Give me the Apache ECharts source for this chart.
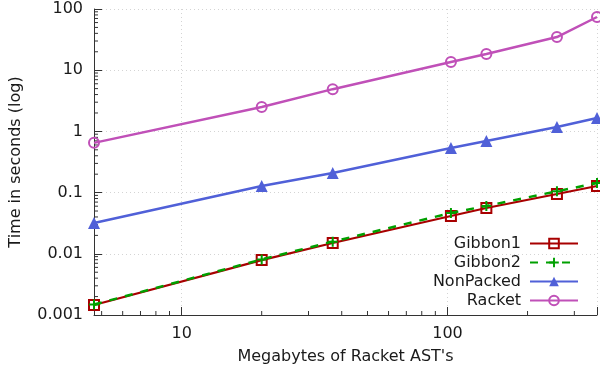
<!DOCTYPE html>
<html>
<head>
<meta charset="utf-8">
<script src="https://cdn.jsdelivr.net/npm/echarts@6/dist/echarts.min.js"></script>
<style>html,body{margin:0;padding:0;background:#fff}#c{width:600px;height:371px}</style>
</head>
<body>
<div id="c"></div>
<script>
var sizes = [4.68, 20, 37, 103, 140, 258, 365];
var gibbon1 = [0.00146, 0.0079, 0.015, 0.0415, 0.056, 0.095, 0.128];
var gibbon2 = [0.00148, 0.0081, 0.0158, 0.0465, 0.0606, 0.105, 0.143];
var nonPacked = [0.0318, 0.128, 0.209, 0.535, 0.697, 1.18, 1.65];
var racket = [0.65, 2.5, 4.9, 13.6, 18.4, 34.8, 74];
var yTicks = [0.001, 0.01, 0.1, 1, 10, 100];
var xTicks = [10, 100];

var FONT = 'DejaVu Sans';
var TXT = '#1a1a1a';
var AX = '#333';

function pairs(ys) { return sizes.map(function (x, i) { return [x, ys[i]]; }); }

// minor tick positions (axis decoration)
var xMinor = [], yMinor = [];
[1, 10, 100].forEach(function (d) { for (var k = 2; k <= 9; k++) xMinor.push(k * d); });
[0.001, 0.01, 0.1, 1, 10].forEach(function (d) { for (var k = 2; k <= 9; k++) yMinor.push(+(k * d).toPrecision(3)); });

var chart = echarts.init(document.getElementById('c'), null, { renderer: 'canvas' });
var xMin = sizes[0], xMax = sizes[sizes.length - 1];

var plus = 'path://M4,0h2v4h4v2h-4v4h-2v-4h-4v-2h4z';

chart.setOption({
  animation: false,
  backgroundColor: '#fff',
  textStyle: { fontFamily: FONT },
  grid: { left: 93, right: 2, top: 9, bottom: 56 },
  legend: {
    orient: 'vertical', align: 'right', right: 16, top: 229,
    itemWidth: 48, itemHeight: 12, itemGap: 0,
    textStyle: { fontFamily: FONT, fontSize: 16, color: TXT, lineHeight: 19, padding: [0, 4, 0, 0] },
    data: ['Gibbon1', 'Gibbon2', 'NonPacked', 'Racket']
  },
  xAxis: {
    type: 'log', min: xMin, max: xMax,
    name: "Megabytes of Racket AST's", nameLocation: 'middle', nameGap: 34,
    nameTextStyle: { fontFamily: FONT, fontSize: 16, color: TXT },
    axisLine: { lineStyle: { color: AX, width: 1 } },
    axisTick: { inside: true, length: 8, lineStyle: { color: AX } },
    axisLabel: { fontFamily: FONT, fontSize: 16, color: TXT, margin: 11,
      formatter: function (v) { return xTicks.indexOf(Math.round(v)) >= 0 ? String(Math.round(v)) : ''; } },
    splitLine: { show: true, lineStyle: { color: '#d4d4d4', type: [1, 3], width: 1 } }
  },
  yAxis: {
    type: 'log', min: yTicks[0], max: yTicks[yTicks.length - 1],
    name: 'Time in seconds (log)', nameLocation: 'middle', nameGap: 70,
    nameTextStyle: { fontFamily: FONT, fontSize: 16, color: TXT },
    axisLine: { show: true, lineStyle: { color: AX, width: 1 } },
    axisTick: { show: true, inside: true, length: 8, lineStyle: { color: AX } },
    axisLabel: { fontFamily: FONT, fontSize: 16, color: TXT, margin: 11,
      formatter: function (v) { return String(+v.toPrecision(3)); } },
    splitLine: { show: true, lineStyle: { color: '#d4d4d4', type: [1, 3], width: 1 } }
  },
  series: [
    {
      name: 'Gibbon1', type: 'line', data: pairs(gibbon1), z: 3,
      symbol: 'rect', symbolSize: 10,
      lineStyle: { color: '#a80000', width: 2.2 },
      itemStyle: { color: 'rgba(255,255,255,0)', borderColor: '#a80000', borderWidth: 2 }
    },
    {
      name: 'Gibbon2', type: 'line', data: pairs(gibbon2), z: 4,
      symbol: plus, symbolSize: 10,
      lineStyle: { color: '#00a000', width: 2.5, type: [8, 8] },
      itemStyle: { color: '#00a000' }
    },
    {
      name: 'NonPacked', type: 'line', data: pairs(nonPacked), z: 3,
      symbol: 'triangle', symbolSize: 12,
      lineStyle: { color: '#5060d8', width: 2.5 },
      itemStyle: { color: '#5060d8' }
    },
    {
      name: 'Racket', type: 'line', data: pairs(racket), z: 3,
      symbol: 'circle', symbolSize: 10,
      lineStyle: { color: '#c050b8', width: 2.5 },
      itemStyle: { color: 'rgba(255,255,255,0)', borderColor: '#c050b8', borderWidth: 2 }
    },
    {
      type: 'custom', silent: true, clip: false, z: 1,
      data: xMinor.filter(function (v) { return v > xMin && v < xMax; }).map(function (v) { return [v, yTicks[0]]; }),
      renderItem: function (params, api) {
        var p = api.coord([api.value(0), api.value(1)]);
        return { type: 'line', shape: { x1: p[0], y1: p[1], x2: p[0], y2: p[1] - 4 }, style: { stroke: AX, lineWidth: 1 } };
      }
    },
    {
      type: 'custom', silent: true, clip: false, z: 1,
      data: yMinor.map(function (v) { return [xMin, v]; }),
      renderItem: function (params, api) {
        var p = api.coord([api.value(0), api.value(1)]);
        return { type: 'line', shape: { x1: p[0], y1: p[1], x2: p[0] + 4, y2: p[1] }, style: { stroke: AX, lineWidth: 1 } };
      }
    }
  ]
});
</script>
</body>
</html>
